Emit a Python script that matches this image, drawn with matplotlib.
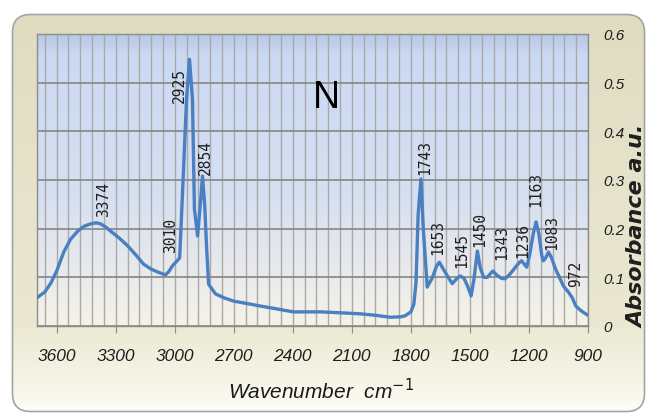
import matplotlib.pyplot as plt
import numpy as np
from matplotlib.patches import FancyBboxPatch, Rectangle
from matplotlib.colors import LinearSegmentedColormap
from matplotlib.ticker import MultipleLocator

# FTIR spectrum (wavenumber in cm-1, absorbance a.u.)
wavenumber = [3700, 3660, 3630, 3600, 3564, 3530, 3493, 3460, 3427, 3400, 3377, 3350,
              3326, 3280, 3240, 3200, 3158, 3120, 3087, 3047, 3030, 3011, 2990, 2975,
              2962, 2940, 2925, 2910, 2900, 2884, 2870, 2859, 2848, 2838, 2828, 2793,
              2750, 2700, 2630, 2565, 2480, 2397, 2330, 2260, 2150, 2057, 1980, 1905,
              1850, 1829, 1800, 1785, 1774, 1763, 1749, 1737, 1717, 1690, 1670, 1655,
              1640, 1610, 1590, 1570, 1550, 1530, 1510, 1494, 1480, 1462, 1448, 1430,
              1412, 1395, 1383, 1365, 1340, 1322, 1300, 1270, 1250, 1237, 1220, 1211,
              1195, 1178, 1164, 1150, 1135, 1127, 1115, 1101, 1085, 1065, 1045, 1025,
              1000, 980, 962, 940, 920, 900]
absorbance = [0.058, 0.070, 0.088, 0.113, 0.152, 0.178, 0.195, 0.205, 0.210, 0.212, 0.210, 0.203,
              0.195, 0.180, 0.165, 0.147, 0.127, 0.117, 0.111, 0.105, 0.112, 0.124, 0.133, 0.140,
              0.260, 0.466, 0.548, 0.466, 0.240, 0.185, 0.250, 0.308, 0.250, 0.160, 0.086, 0.066,
              0.058, 0.051, 0.046, 0.041, 0.035, 0.029, 0.029, 0.029, 0.027, 0.025, 0.022, 0.018,
              0.019, 0.021, 0.029, 0.045, 0.090, 0.230, 0.302, 0.200, 0.080, 0.100, 0.123, 0.131,
              0.120, 0.100, 0.087, 0.096, 0.103, 0.098, 0.080, 0.062, 0.095, 0.154, 0.120, 0.100,
              0.100, 0.108, 0.113, 0.105, 0.098, 0.097, 0.105, 0.120, 0.130, 0.134, 0.125, 0.121,
              0.150, 0.190, 0.214, 0.190, 0.145, 0.134, 0.140, 0.152, 0.140, 0.117, 0.100, 0.082,
              0.070, 0.058, 0.041, 0.033, 0.027, 0.022]

# peak labels and the absorbance where each label starts
peak_labels = ['3374', '3010', '2925', '2854', '1743', '1653', '1545',
               '1450', '1343', '1236', '1163', '1083', '972']
peak_label_y = [0.226, 0.152, 0.460, 0.312, 0.312, 0.148, 0.121,
                0.164, 0.138, 0.142, 0.246, 0.158, 0.082]
label_shift = [2, -2, -10, 2, 3, -2, 1, 0, 1, 1, -1, 0, 2]  # px

x_ticks = [3600, 3300, 3000, 2700, 2400, 2100, 1800, 1500, 1200, 900]
y_ticks = [0, 0.1, 0.2, 0.3, 0.4, 0.5, 0.6]
y_tick_labels = ['0', '0.1', '0.2', '0.3', '0.4', '0.5', '0.6']

NARROW = ['Liberation Sans Narrow', 'Liberation Sans', 'DejaVu Sans']

fig = plt.figure(figsize=(6.46, 4.14), dpi=100)

# background: rounded beige frame + gradient plot area (pixel coords)
bg = fig.add_axes([0, 0, 1, 1])
bg.set_xlim(0, 646)
bg.set_ylim(0, 414)
bg.axis('off')
grad = np.linspace(0, 1, 256).reshape(-1, 1)

frame = FancyBboxPatch((12.5, 1.5), 632, 397, boxstyle='round,pad=0,rounding_size=18',
                       fc='none', ec='#a3a3a3', lw=1.2, zorder=3)
frame_cmap = LinearSegmentedColormap.from_list(
    'frame', [(0, '#fdfdf8'), (0.07, '#f7f5e8'), (0.22, '#ebe8d2'), (1, '#e0dcc2')])
im = bg.imshow(grad, extent=(12, 645, 1, 399), origin='lower', cmap=frame_cmap, aspect='auto')
im.set_clip_path(frame)
bg.add_patch(frame)

plot_box = Rectangle((37, 87), 551, 292, transform=bg.transData)
plot_cmap = LinearSegmentedColormap.from_list(
    'plot', [(0, '#f5f3e6'), (0.2, '#e8e9ec'), (0.45, '#d6e0f2'), (0.93, '#cbd9f2'), (1, '#b6c8e6')])
im2 = bg.imshow(grad, extent=(37, 588, 87, 379), origin='lower', cmap=plot_cmap, aspect='auto')
im2.set_clip_path(plot_box)

ax = fig.add_axes([37 / 646, 87 / 414, 551 / 646, 292 / 414])
ax.patch.set_alpha(0)

ax.plot(wavenumber, absorbance, color='#4a7fc1', lw=2.4,
        solid_capstyle='round', solid_joinstyle='round', zorder=3)

for lab, y, dx in zip(peak_labels, peak_label_y, label_shift):
    ax.annotate(lab, xy=(int(lab), y), xytext=(dx * 0.72, 0), textcoords='offset points',
                rotation=90, ha='center', va='bottom', fontsize=10.5,
                family='DejaVu Sans Mono', color='#1e1e1e', zorder=4)

ax.text(0.526, 0.784, 'N', transform=ax.transAxes, ha='center', va='center',
        fontsize=27, family=NARROW, color='black')

ax.set_xlim(3700, 900)
ax.set_ylim(0, 0.6)
ax.set_xticks(x_ticks)
ax.xaxis.set_minor_locator(MultipleLocator(60))
ax.yaxis.tick_right()
ax.set_yticks(y_ticks)
ax.set_yticklabels(y_tick_labels)

ax.set_axisbelow(True)
ax.grid(axis='x', which='both', color='#a9a9a9', lw=1.0)
ax.grid(axis='y', which='major', color='#8c8c8c', lw=1.3)

ax.tick_params(axis='x', which='major', length=5, color='#8c8c8c', pad=11, labelsize=12.5,
               labelcolor='#1e1e1e')
ax.tick_params(axis='x', which='minor', length=0)
ax.tick_params(axis='y', length=0, pad=11, labelsize=11, labelcolor='#1e1e1e')
for t in ax.get_xticklabels() + ax.get_yticklabels():
    t.set_family(NARROW)
    t.set_style('italic')

for sp in ax.spines.values():
    sp.set_color('#8c8c8c')
    sp.set_linewidth(1.0)

ax.set_xlabel('Wavenumber  cm$^{-1}$', fontsize=15, style='italic', family=NARROW,
              color='#1a1a1a')
ax.xaxis.set_label_coords(0.515, -0.175)

ax.yaxis.set_label_position('right')
ax.set_ylabel('Absorbance a.u.', fontsize=16, style='italic', weight='bold',
              family='DejaVu Sans', color='#1e1e1e', va='center', ha='center')
ax.yaxis.set_label_coords(1.089, 0.346)

fig.savefig('out.png', dpi=100)
